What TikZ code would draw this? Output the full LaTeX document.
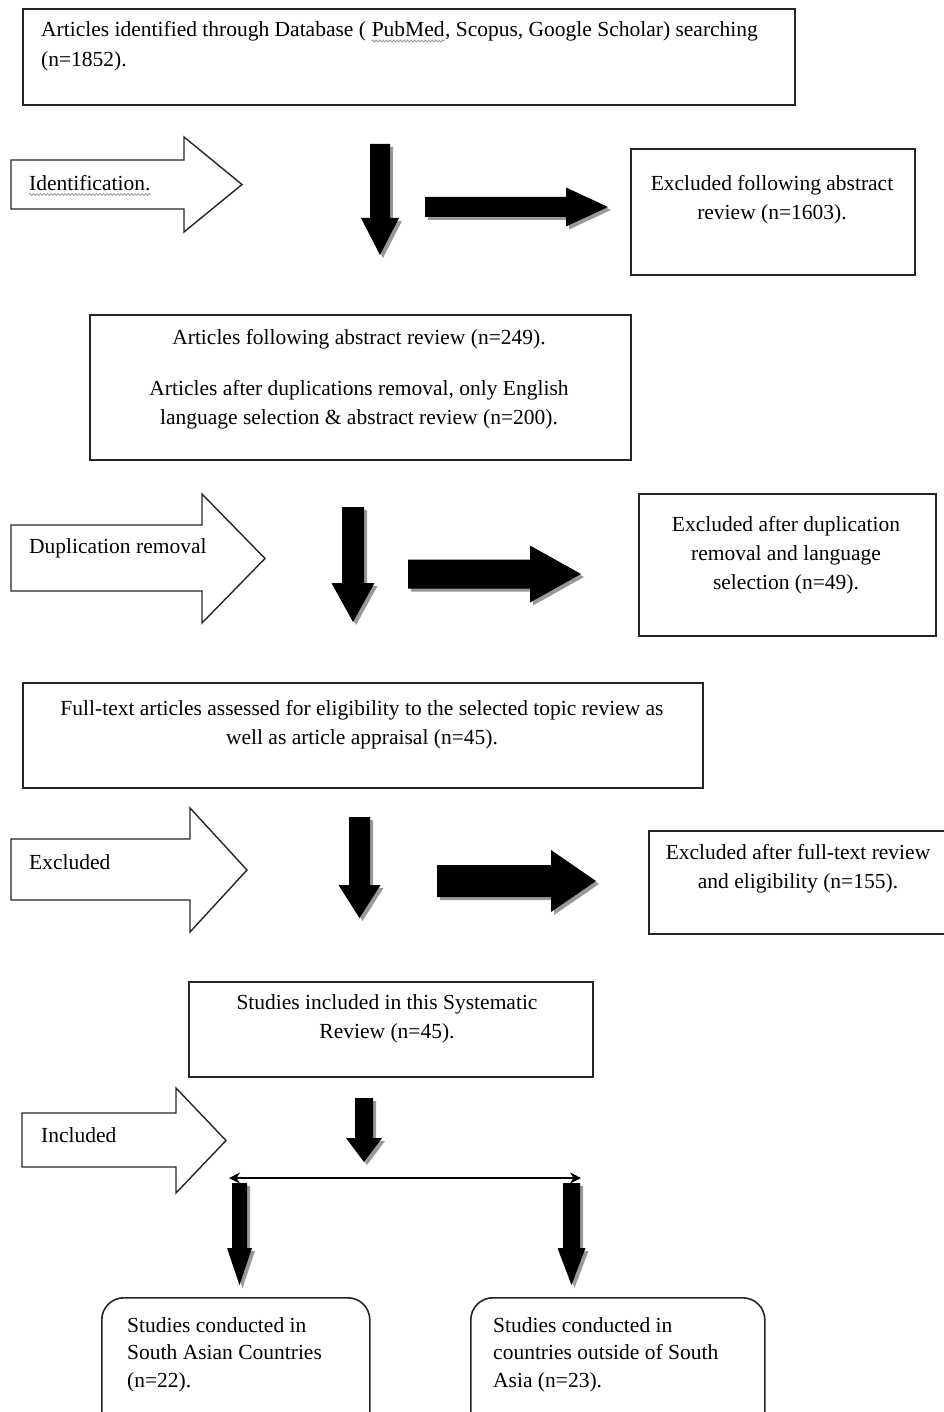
\documentclass[tikz,border=0pt]{standalone}
\usepackage{fontspec}
\setmainfont{Liberation Serif}
\usetikzlibrary{arrows.meta,decorations.pathmorphing}
\tikzset{
  box/.style={draw=black!85, line width=1.6pt, fill=white, inner sep=0pt, anchor=north west},
  rbox/.style={box, rounded corners=22pt},
  txt/.style={font=\fontsize{21.5}{29}\selectfont, inner sep=0pt, text=black},
  hollow/.style={draw=black!85, line width=1.4pt, fill=white, line join=miter},
  blk/.style={fill=black},
  shd/.style={fill=black!40},
  squiggle/.style={draw=black!40, line width=0.8pt, decorate, decoration={snake, amplitude=1pt, segment length=3.5pt}},
  thinarrow/.style={draw=black, line width=1.3pt, {Stealth[length=11pt,width=11pt]}-{Stealth[length=11pt,width=11pt]}}
}
% x, top, head start, tip, shaft half, head half
\newcommand\blockdown[6]{%
  \fill[shd, shift={(3,3)}] ({#1-#5},#2) -- ({#1+#5},#2) -- ({#1+#5},#3) -- ({#1+#6},#3) -- (#1,#4) -- ({#1-#6},#3) -- ({#1-#5},#3) -- cycle;
  \fill[blk] ({#1-#5},#2) -- ({#1+#5},#2) -- ({#1+#5},#3) -- ({#1+#6},#3) -- (#1,#4) -- ({#1-#6},#3) -- ({#1-#5},#3) -- cycle;}
% y, left, head base, tip, shaft half, head half
\newcommand\blockright[6]{%
  \fill[shd, shift={(3,3)}] (#2,{#1-#5}) -- (#3,{#1-#5}) -- (#3,{#1-#6}) -- (#4,#1) -- (#3,{#1+#6}) -- (#3,{#1+#5}) -- (#2,{#1+#5}) -- cycle;
  \fill[blk] (#2,{#1-#5}) -- (#3,{#1-#5}) -- (#3,{#1-#6}) -- (#4,#1) -- (#3,{#1+#6}) -- (#3,{#1+#5}) -- (#2,{#1+#5}) -- cycle;}
% left, shaft top, shaft bottom, head base, head top, tip x, head bottom
\newcommand\hollowarrow[7]{%
  \draw[hollow] (#1,#2) -- (#4,#2) -- (#4,#5) -- (#6,{(#5+#7)/2}) -- (#4,#7) -- (#4,#3) -- (#1,#3) -- cycle;}
\begin{document}
\begin{tikzpicture}[x=1pt,y=-1pt]
\useasboundingbox (0,0) rectangle (944,1412);
\fill[white] (0,0) rectangle (944,1412);
\clip (0,0) rectangle (944,1412);

% ---- stage 1
\node[box, minimum width=772pt, minimum height=96pt] (b1) at (22,8) {};
\node[txt, anchor=base west] (t1a) at (41,37) {Articles identified through Database (};
\node[txt, anchor=base west, xshift=5.4pt] (pm) at (t1a.base east) {PubMed};
\node[txt, anchor=base west] (t1b) at (pm.base east) {, Scopus, Google Scholar) searching};
\draw[squiggle] ([yshift=-4pt]pm.base west) -- ([yshift=-4pt]pm.base east);
\node[txt, anchor=base west] (t1c) at (41,67) {(n=1852).};
\hollowarrow{11}{160}{209}{184}{137}{242}{232}
\node[txt, anchor=west] (l1) at (29,183) {Identification.};
\draw[squiggle] ([yshift=-4pt]l1.base west) -- ([yshift=-4pt]l1.base east);
\blockdown{380}{144}{218}{255}{10}{19}
\blockright{207}{425}{566}{608}{10}{19.5}
\node[box, minimum width=284pt, minimum height=126pt] (e1) at (630,148) {};
\node[txt, anchor=north, align=center] (te1) at (772,175) {Excluded following abstract\\review (n=1603).};

% ---- stage 2
\node[box, minimum width=541pt, minimum height=145pt] (b2) at (89,314) {};
\node[txt, anchor=north, align=center] (t2) at (359,329)
  {Articles following abstract review (n=249).\\[22pt]Articles after duplications removal, only English\\language selection \& abstract review (n=200).};
\hollowarrow{11}{525}{591}{202}{494}{265}{623}
\node[txt, anchor=west] (l2) at (29,548) {Duplication removal};
\blockdown{353}{507}{583}{622}{11}{21.5}
\blockright{574}{408}{530}{581}{14.5}{28.5}
\node[box, minimum width=297pt, minimum height=142pt] (e2) at (638,493) {};
\node[txt, anchor=north, align=center] (te2) at (786,516) {Excluded after duplication\\removal and language\\selection (n=49).};

% ---- stage 3
\node[box, minimum width=680pt, minimum height=105pt] (b3) at (22,682) {};
\node[txt, anchor=north, align=center] (t3) at (362,700)
  {Full-text articles assessed for eligibility to the selected topic review as\\well as article appraisal (n=45).};
\hollowarrow{11}{839}{900}{190}{808}{247}{932}
\node[txt, anchor=west] (l3) at (29,862) {Excluded};
\blockdown{359.5}{817}{885}{918}{10.5}{21}
\blockright{881}{437}{551}{596}{16}{31}
\node[box, minimum width=310pt, minimum height=103pt] (e3) at (648,830) {};
\node[txt, anchor=north, align=center] (te3) at (798,844) {Excluded after full-text review\\and eligibility (n=155).};

% ---- stage 4
\node[box, minimum width=404pt, minimum height=95pt] (b4) at (188,981) {};
\node[txt, anchor=north, align=center] (t4) at (387,994) {Studies included in this Systematic\\Review (n=45).};
\hollowarrow{22}{1113}{1167}{176}{1088}{226}{1193}
\node[txt, anchor=west] (l4) at (41,1135) {Included};
\blockdown{364}{1098}{1138}{1162}{9}{18}
\coordinate (sl) at (229,1178);
\coordinate (sr) at (581,1178);
\draw[thinarrow] (sl) -- (sr);
\blockdown{239.5}{1183}{1248}{1285}{7.5}{12.5}
\blockdown{571.5}{1183}{1248}{1285}{8.5}{14}
\node[rbox, minimum width=268pt, minimum height=150pt] (r1) at (101,1297) {};
\node[txt, anchor=north west, align=left, font=\fontsize{21.5}{27.5}\selectfont] (tr1) at (127,1317)
  {Studies conducted in\\South Asian Countries\\(n=22).};
\node[rbox, minimum width=294pt, minimum height=150pt] (r2) at (470,1297) {};
\node[txt, anchor=north west, align=left, font=\fontsize{21.5}{27.5}\selectfont] (tr2) at (493,1317)
  {Studies conducted in\\countries outside of South\\Asia (n=23).};
\end{tikzpicture}
\end{document}
